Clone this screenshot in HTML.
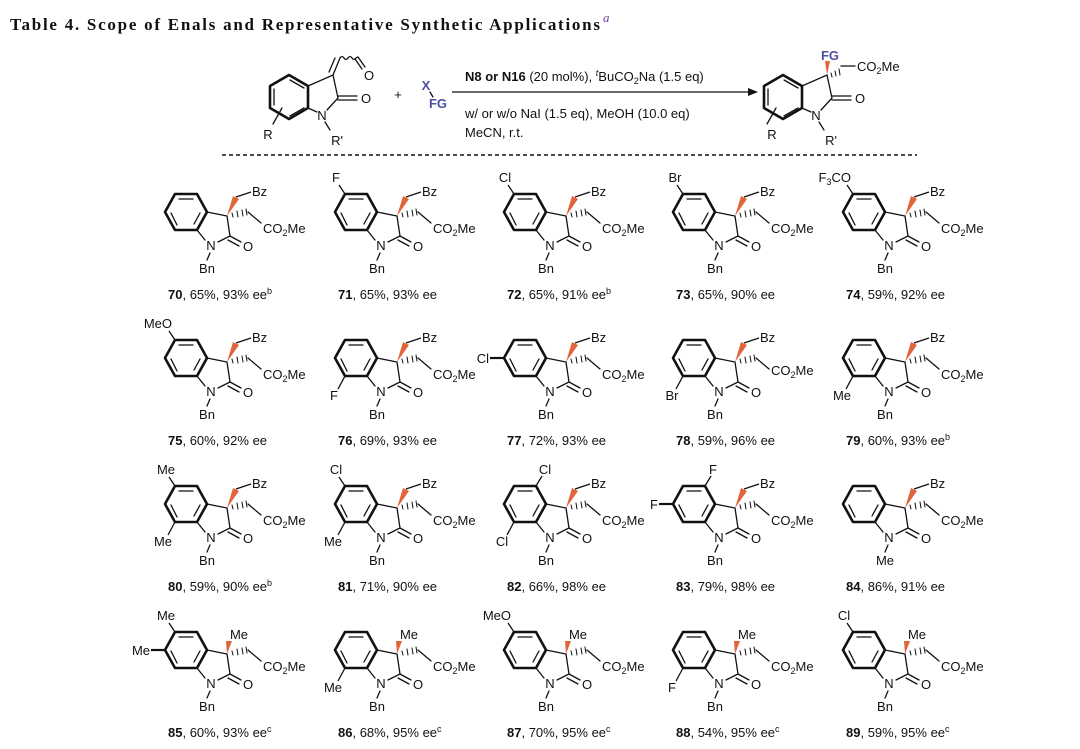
<!DOCTYPE html>
<html><head><meta charset="utf-8"><style>
html,body{margin:0;padding:0;background:#fff;}
svg{display:block;}
text{font-family:"Liberation Sans",sans-serif;font-size:13px;fill:#111;}
.m{text-anchor:middle;}
.e{text-anchor:end;}
.b{font-weight:bold;}
.fg{fill:#4b4fa0;font-weight:bold;}
</style></head><body>
<svg width="1080" height="749" viewBox="0 0 1080 749" xmlns="http://www.w3.org/2000/svg">
<defs>
<g id="core" fill="none" stroke="#111" stroke-width="1.3" stroke-linecap="round">
 <path d="M165,212 L175,194 L197,194 L207,212 L197,230 L175,230 Z" stroke-width="2.6" stroke-linejoin="round"/>
 <path d="M179,199 L193,199 M200,213 L194,224 M177,225 L171,213"/>
 <path d="M207,212 L227,216 L230,236 L218,242 M205,240 L197,230"/>
 <path d="M230,236 L241,242 M228,240 L239,246"/>
 <path d="M210,253 L207,260"/>
 <path d="M232,213 L233,217 M237,211 L238,217 M242,210 L243,216 M246,209 L247,215" stroke-width="1"/>
 <path d="M248,212 L261,223"/>
</g>
<g id="bz">
 <polygon points="227,216 233,196 239,199" fill="#e2643c"/>
 <path d="M236,197 L251,192" stroke="#111" stroke-width="1.3" fill="none"/>
</g>
<g id="me">
 <polygon points="227,216 226,203 232,203" fill="#e2643c"/>
</g>
<g id="c5"><path d="M175,194 L169,185" stroke="#111" stroke-width="1.3"/></g>
<g id="c7"><path d="M175,230 L168,243" stroke="#111" stroke-width="1.3"/></g>
<g id="c6"><path d="M165,212 L151,212" stroke="#111" stroke-width="2.2"/></g>
<g id="c4"><path d="M197,194 L203,184" stroke="#111" stroke-width="1.3"/></g>
</defs>

<text x="10" y="30" style="font-family:'Liberation Serif',serif;font-size:17px;font-weight:bold" textLength="590">Table 4. Scope of Enals and Representative Synthetic Applications</text>
<text x="603" y="22" style="font-family:'Liberation Serif',serif;font-size:13px;font-style:italic;fill:#6a3fa0">a</text>

<!-- reactant -->
<g fill="none" stroke="#111" stroke-width="1.3" stroke-linecap="round">
 <path d="M289,75 L308,86 L308,108 L289,119 L270,108 L270,86 Z" stroke-width="2.6" stroke-linejoin="round"/>
 <path d="M274,89 L274,105 M290,80 L304,88 M304,108 L290,116"/>
 <path d="M308,86 L333,75 L338,98 L327,110 M317,112 L308,108"/>
 <path d="M333,75 L340,58 M329,72 L335,58"/>
 <path d="M340,58 q2,-3 4,0 q2,3 4,0 q2,-3 4,0 q2,3 4,0 l2,-1"/>
 <path d="M358,57 L365,67 M355,59 L362,69"/>
 <path d="M338,96 L357,96 M338,100 L357,100"/>
 <path d="M325,122 L330,130 M282,108 L273,124"/>
 <path d="M430,92 L433,97"/>
</g>
<text x="322" y="120" class="m">N</text>
<text x="337" y="145" class="m">R'</text>
<text x="268" y="139" class="m">R</text>
<text x="366" y="103" class="m">O</text>
<text x="369" y="80" class="m">O</text>
<text x="398" y="99" class="m">+</text>
<text x="426" y="90" class="m fg">X</text>
<text x="438" y="108" class="m fg">FG</text>

<!-- arrow -->
<path d="M452,92 L752,92" stroke="#111" stroke-width="1.3"/>
<polygon points="758,92 748,88 748,96" fill="#111"/>
<text x="465" y="81"><tspan class="b">N8 or N16</tspan> (20 mol%), <tspan font-size="9" dy="-5" font-style="italic">t</tspan><tspan dy="5">BuCO</tspan><tspan font-size="9" dy="3">2</tspan><tspan dy="-3">Na (1.5 eq)</tspan></text>
<text x="465" y="118">w/ or w/o NaI (1.5 eq), MeOH (10.0 eq)</text>
<text x="465" y="137">MeCN, r.t.</text>

<!-- product -->
<g fill="none" stroke="#111" stroke-width="1.3" stroke-linecap="round">
 <path d="M783,75 L802,86 L802,108 L783,119 L764,108 L764,86 Z" stroke-width="2.6" stroke-linejoin="round"/>
 <path d="M768,89 L768,105 M784,80 L798,88 M798,108 L784,116"/>
 <path d="M802,86 L827,75 L832,98 L821,110 M811,112 L802,108"/>
 <path d="M832,96 L851,96 M832,100 L851,100"/>
 <path d="M819,122 L824,130 M776,108 L767,124"/>
 <path d="M831,73 L832,77 M835,71 L836,76 M839,69 L840,75" stroke-width="1"/>
 <path d="M841,66 L855,66"/>
</g>
<polygon points="827,75 825,61 830,61" fill="#e2643c"/>
<text x="830" y="60" class="m fg">FG</text>
<text x="857" y="71">CO<tspan font-size="9" dy="3">2</tspan><tspan dy="-3">Me</tspan></text>
<text x="816" y="120" class="m">N</text>
<text x="831" y="145" class="m">R'</text>
<text x="772" y="139" class="m">R</text>
<text x="860" y="103" class="m">O</text>

<path d="M222,155 L917,155" stroke="#111" stroke-width="1.5" stroke-dasharray="4,3"/>

<!-- Row 1 -->
<g transform="translate(0,0)"><use href="#core"/><use href="#bz"/>
<text x="211" y="250" class="m">N</text><text x="248" y="251" class="m">O</text><text x="207" y="273" class="m">Bn</text>
<text x="263" y="233">CO<tspan font-size="9" dy="3">2</tspan><tspan dy="-3">Me</tspan></text><text x="252" y="196">Bz</text>
<text x="168" y="299"><tspan class="b">70</tspan>, 65%, 93% ee<tspan font-size="9" dy="-5">b</tspan></text></g>

<g transform="translate(170,0)"><use href="#core"/><use href="#bz"/><use href="#c5"/><text x="166" y="182" class="m">F</text>
<text x="211" y="250" class="m">N</text><text x="248" y="251" class="m">O</text><text x="207" y="273" class="m">Bn</text>
<text x="263" y="233">CO<tspan font-size="9" dy="3">2</tspan><tspan dy="-3">Me</tspan></text><text x="252" y="196">Bz</text>
<text x="168" y="299"><tspan class="b">71</tspan>, 65%, 93% ee</text></g>

<g transform="translate(339,0)"><use href="#core"/><use href="#bz"/><use href="#c5"/><text x="166" y="182" class="m">Cl</text>
<text x="211" y="250" class="m">N</text><text x="248" y="251" class="m">O</text><text x="207" y="273" class="m">Bn</text>
<text x="263" y="233">CO<tspan font-size="9" dy="3">2</tspan><tspan dy="-3">Me</tspan></text><text x="252" y="196">Bz</text>
<text x="168" y="299"><tspan class="b">72</tspan>, 65%, 91% ee<tspan font-size="9" dy="-5">b</tspan></text></g>

<g transform="translate(508,0)"><use href="#core"/><use href="#bz"/><use href="#c5"/><text x="167" y="182" class="m">Br</text>
<text x="211" y="250" class="m">N</text><text x="248" y="251" class="m">O</text><text x="207" y="273" class="m">Bn</text>
<text x="263" y="233">CO<tspan font-size="9" dy="3">2</tspan><tspan dy="-3">Me</tspan></text><text x="252" y="196">Bz</text>
<text x="168" y="299"><tspan class="b">73</tspan>, 65%, 90% ee</text></g>

<g transform="translate(678,0)"><use href="#core"/><use href="#bz"/><use href="#c5"/><text x="173" y="182" class="e">F<tspan font-size="9" dy="3">3</tspan><tspan dy="-3">CO</tspan></text>
<text x="211" y="250" class="m">N</text><text x="248" y="251" class="m">O</text><text x="207" y="273" class="m">Bn</text>
<text x="263" y="233">CO<tspan font-size="9" dy="3">2</tspan><tspan dy="-3">Me</tspan></text><text x="252" y="196">Bz</text>
<text x="168" y="299"><tspan class="b">74</tspan>, 59%, 92% ee</text></g>

<!-- Row 2 -->
<g transform="translate(0,146)"><use href="#core"/><use href="#bz"/><use href="#c5"/><text x="172" y="182" class="e">MeO</text>
<text x="211" y="250" class="m">N</text><text x="248" y="251" class="m">O</text><text x="207" y="273" class="m">Bn</text>
<text x="263" y="233">CO<tspan font-size="9" dy="3">2</tspan><tspan dy="-3">Me</tspan></text><text x="252" y="196">Bz</text>
<text x="168" y="299"><tspan class="b">75</tspan>, 60%, 92% ee</text></g>

<g transform="translate(170,146)"><use href="#core"/><use href="#bz"/><use href="#c7"/><text x="164" y="254" class="m">F</text>
<text x="211" y="250" class="m">N</text><text x="248" y="251" class="m">O</text><text x="207" y="273" class="m">Bn</text>
<text x="263" y="233">CO<tspan font-size="9" dy="3">2</tspan><tspan dy="-3">Me</tspan></text><text x="252" y="196">Bz</text>
<text x="168" y="299"><tspan class="b">76</tspan>, 69%, 93% ee</text></g>

<g transform="translate(339,146)"><use href="#core"/><use href="#bz"/><use href="#c6"/><text x="150" y="217" class="e">Cl</text>
<text x="211" y="250" class="m">N</text><text x="248" y="251" class="m">O</text><text x="207" y="273" class="m">Bn</text>
<text x="263" y="233">CO<tspan font-size="9" dy="3">2</tspan><tspan dy="-3">Me</tspan></text><text x="252" y="196">Bz</text>
<text x="168" y="299"><tspan class="b">77</tspan>, 72%, 93% ee</text></g>

<g transform="translate(508,146)"><use href="#core"/><use href="#bz"/><use href="#c7"/><text x="164" y="254" class="m">Br</text>
<text x="211" y="250" class="m">N</text><text x="248" y="251" class="m">O</text><text x="207" y="273" class="m">Bn</text>
<text x="263" y="229">CO<tspan font-size="9" dy="3">2</tspan><tspan dy="-3">Me</tspan></text><text x="252" y="196">Bz</text>
<text x="168" y="299"><tspan class="b">78</tspan>, 59%, 96% ee</text></g>

<g transform="translate(678,146)"><use href="#core"/><use href="#bz"/><use href="#c7"/><text x="164" y="254" class="m">Me</text>
<text x="211" y="250" class="m">N</text><text x="248" y="251" class="m">O</text><text x="207" y="273" class="m">Bn</text>
<text x="263" y="233">CO<tspan font-size="9" dy="3">2</tspan><tspan dy="-3">Me</tspan></text><text x="252" y="196">Bz</text>
<text x="168" y="299"><tspan class="b">79</tspan>, 60%, 93% ee<tspan font-size="9" dy="-5">b</tspan></text></g>

<!-- Row 3 -->
<g transform="translate(0,292)"><use href="#core"/><use href="#bz"/><use href="#c5"/><use href="#c7"/><text x="166" y="182" class="m">Me</text><text x="163" y="254" class="m">Me</text>
<text x="211" y="250" class="m">N</text><text x="248" y="251" class="m">O</text><text x="207" y="273" class="m">Bn</text>
<text x="263" y="233">CO<tspan font-size="9" dy="3">2</tspan><tspan dy="-3">Me</tspan></text><text x="252" y="196">Bz</text>
<text x="168" y="299"><tspan class="b">80</tspan>, 59%, 90% ee<tspan font-size="9" dy="-5">b</tspan></text></g>

<g transform="translate(170,292)"><use href="#core"/><use href="#bz"/><use href="#c5"/><use href="#c7"/><text x="166" y="182" class="m">Cl</text><text x="163" y="254" class="m">Me</text>
<text x="211" y="250" class="m">N</text><text x="248" y="251" class="m">O</text><text x="207" y="273" class="m">Bn</text>
<text x="263" y="233">CO<tspan font-size="9" dy="3">2</tspan><tspan dy="-3">Me</tspan></text><text x="252" y="196">Bz</text>
<text x="168" y="299"><tspan class="b">81</tspan>, 71%, 90% ee</text></g>

<g transform="translate(339,292)"><use href="#core"/><use href="#bz"/><use href="#c4"/><use href="#c7"/><text x="206" y="182" class="m">Cl</text><text x="163" y="254" class="m">Cl</text>
<text x="211" y="250" class="m">N</text><text x="248" y="251" class="m">O</text><text x="207" y="273" class="m">Bn</text>
<text x="263" y="233">CO<tspan font-size="9" dy="3">2</tspan><tspan dy="-3">Me</tspan></text><text x="252" y="196">Bz</text>
<text x="168" y="299"><tspan class="b">82</tspan>, 66%, 98% ee</text></g>

<g transform="translate(508,292)"><use href="#core"/><use href="#bz"/><use href="#c4"/><use href="#c6"/><text x="205" y="182" class="m">F</text><text x="150" y="217" class="e">F</text>
<text x="211" y="250" class="m">N</text><text x="248" y="251" class="m">O</text><text x="207" y="273" class="m">Bn</text>
<text x="263" y="233">CO<tspan font-size="9" dy="3">2</tspan><tspan dy="-3">Me</tspan></text><text x="252" y="196">Bz</text>
<text x="168" y="299"><tspan class="b">83</tspan>, 79%, 98% ee</text></g>

<g transform="translate(678,292)"><use href="#core"/><use href="#bz"/>
<text x="211" y="250" class="m">N</text><text x="248" y="251" class="m">O</text><text x="207" y="273" class="m">Me</text>
<text x="263" y="233">CO<tspan font-size="9" dy="3">2</tspan><tspan dy="-3">Me</tspan></text><text x="252" y="196">Bz</text>
<text x="168" y="299"><tspan class="b">84</tspan>, 86%, 91% ee</text></g>

<!-- Row 4 -->
<g transform="translate(0,438)"><use href="#core"/><use href="#me"/><use href="#c5"/><use href="#c6"/><text x="166" y="182" class="m">Me</text><text x="150" y="217" class="e">Me</text>
<text x="211" y="250" class="m">N</text><text x="248" y="251" class="m">O</text><text x="207" y="273" class="m">Bn</text>
<text x="263" y="233">CO<tspan font-size="9" dy="3">2</tspan><tspan dy="-3">Me</tspan></text><text x="239" y="201" class="m">Me</text>
<text x="168" y="299"><tspan class="b">85</tspan>, 60%, 93% ee<tspan font-size="9" dy="-5">c</tspan></text></g>

<g transform="translate(170,438)"><use href="#core"/><use href="#me"/><use href="#c7"/><text x="163" y="254" class="m">Me</text>
<text x="211" y="250" class="m">N</text><text x="248" y="251" class="m">O</text><text x="207" y="273" class="m">Bn</text>
<text x="263" y="233">CO<tspan font-size="9" dy="3">2</tspan><tspan dy="-3">Me</tspan></text><text x="239" y="201" class="m">Me</text>
<text x="168" y="299"><tspan class="b">86</tspan>, 68%, 95% ee<tspan font-size="9" dy="-5">c</tspan></text></g>

<g transform="translate(339,438)"><use href="#core"/><use href="#me"/><use href="#c5"/><text x="172" y="182" class="e">MeO</text>
<text x="211" y="250" class="m">N</text><text x="248" y="251" class="m">O</text><text x="207" y="273" class="m">Bn</text>
<text x="263" y="233">CO<tspan font-size="9" dy="3">2</tspan><tspan dy="-3">Me</tspan></text><text x="239" y="201" class="m">Me</text>
<text x="168" y="299"><tspan class="b">87</tspan>, 70%, 95% ee<tspan font-size="9" dy="-5">c</tspan></text></g>

<g transform="translate(508,438)"><use href="#core"/><use href="#me"/><use href="#c7"/><text x="164" y="254" class="m">F</text>
<text x="211" y="250" class="m">N</text><text x="248" y="251" class="m">O</text><text x="207" y="273" class="m">Bn</text>
<text x="263" y="233">CO<tspan font-size="9" dy="3">2</tspan><tspan dy="-3">Me</tspan></text><text x="239" y="201" class="m">Me</text>
<text x="168" y="299"><tspan class="b">88</tspan>, 54%, 95% ee<tspan font-size="9" dy="-5">c</tspan></text></g>

<g transform="translate(678,438)"><use href="#core"/><use href="#me"/><use href="#c5"/><text x="166" y="182" class="m">Cl</text>
<text x="211" y="250" class="m">N</text><text x="248" y="251" class="m">O</text><text x="207" y="273" class="m">Bn</text>
<text x="263" y="233">CO<tspan font-size="9" dy="3">2</tspan><tspan dy="-3">Me</tspan></text><text x="239" y="201" class="m">Me</text>
<text x="168" y="299"><tspan class="b">89</tspan>, 59%, 95% ee<tspan font-size="9" dy="-5">c</tspan></text></g>
</svg>
</body></html>
